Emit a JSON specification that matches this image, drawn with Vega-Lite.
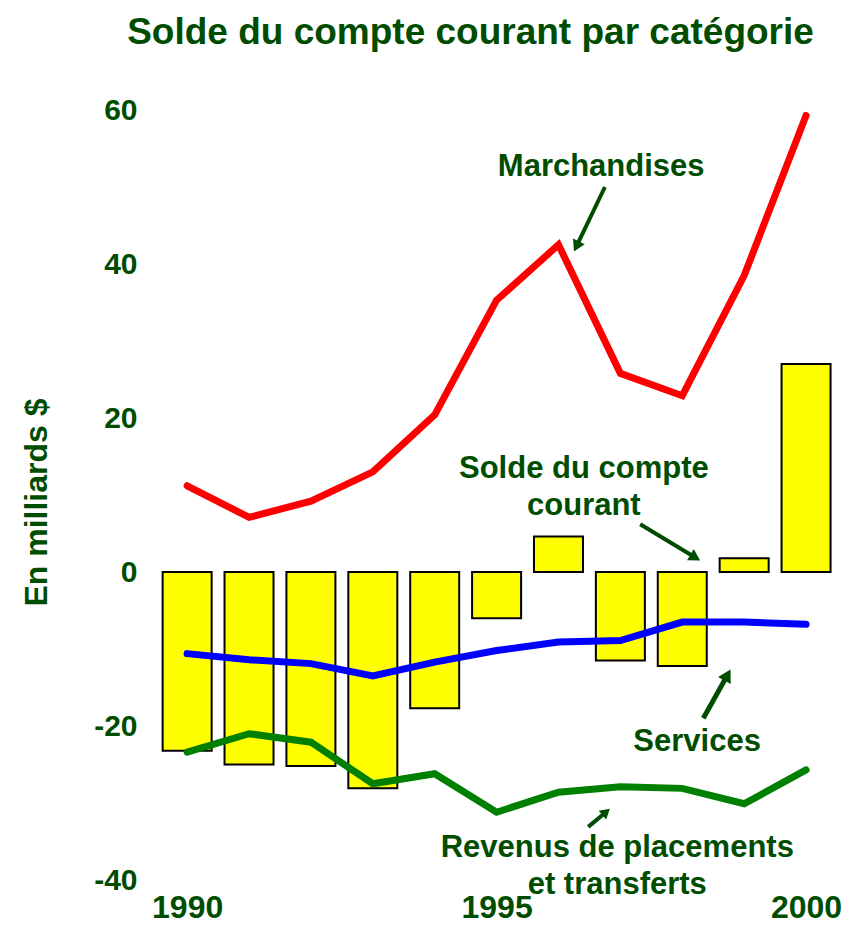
{
  "$schema": "https://vega.github.io/schema/vega-lite/v6.json",
  "width": 687,
  "height": 770,
  "autosize": {"type": "none"},
  "padding": {"left": 150, "top": 110, "right": 5, "bottom": 45},
  "background": "white",
  "title": {
    "text": "Solde du compte courant par catégorie",
    "font": "Liberation Sans",
    "fontSize": 37,
    "fontWeight": "bold",
    "color": "#004d00",
    "anchor": "middle",
    "dx": -23,
    "offset": 43
  },
  "config": {"view": {"stroke": null}, "font": "Liberation Sans"},
  "datasets": {
    "solde": [
      {"year": 1990, "value": -23.2},
      {"year": 1991, "value": -25.0},
      {"year": 1992, "value": -25.2},
      {"year": 1993, "value": -28.1},
      {"year": 1994, "value": -17.7},
      {"year": 1995, "value": -6.0},
      {"year": 1996, "value": 4.6},
      {"year": 1997, "value": -11.5},
      {"year": 1998, "value": -12.2},
      {"year": 1999, "value": 1.8},
      {"year": 2000, "value": 27.0}
    ],
    "lines": [
      {"serie": "Marchandises", "year": 1990, "value": 11.2},
      {"serie": "Marchandises", "year": 1991, "value": 7.1},
      {"serie": "Marchandises", "year": 1992, "value": 9.2},
      {"serie": "Marchandises", "year": 1993, "value": 13.0},
      {"serie": "Marchandises", "year": 1994, "value": 20.4},
      {"serie": "Marchandises", "year": 1995, "value": 35.3},
      {"serie": "Marchandises", "year": 1996, "value": 42.5},
      {"serie": "Marchandises", "year": 1997, "value": 25.8},
      {"serie": "Marchandises", "year": 1998, "value": 22.9},
      {"serie": "Marchandises", "year": 1999, "value": 38.5},
      {"serie": "Marchandises", "year": 2000, "value": 59.3},
      {"serie": "Services", "year": 1990, "value": -10.6},
      {"serie": "Services", "year": 1991, "value": -11.4},
      {"serie": "Services", "year": 1992, "value": -11.9},
      {"serie": "Services", "year": 1993, "value": -13.5},
      {"serie": "Services", "year": 1994, "value": -11.7},
      {"serie": "Services", "year": 1995, "value": -10.2},
      {"serie": "Services", "year": 1996, "value": -9.1},
      {"serie": "Services", "year": 1997, "value": -8.9},
      {"serie": "Services", "year": 1998, "value": -6.5},
      {"serie": "Services", "year": 1999, "value": -6.5},
      {"serie": "Services", "year": 2000, "value": -6.8},
      {"serie": "Revenus", "year": 1990, "value": -23.4},
      {"serie": "Revenus", "year": 1991, "value": -21.0},
      {"serie": "Revenus", "year": 1992, "value": -22.1},
      {"serie": "Revenus", "year": 1993, "value": -27.5},
      {"serie": "Revenus", "year": 1994, "value": -26.2},
      {"serie": "Revenus", "year": 1995, "value": -31.2},
      {"serie": "Revenus", "year": 1996, "value": -28.6},
      {"serie": "Revenus", "year": 1997, "value": -27.9},
      {"serie": "Revenus", "year": 1998, "value": -28.1},
      {"serie": "Revenus", "year": 1999, "value": -30.1},
      {"serie": "Revenus", "year": 2000, "value": -25.7}
    ],
    "labels": [
      {"text": "Marchandises", "year": 1996.69, "value": 51.4},
      {"text": "Solde du compte", "year": 1996.41, "value": 12.26},
      {"text": "courant", "year": 1996.41, "value": 7.36},
      {"text": "Services", "year": 1998.24, "value": -23.25},
      {"text": "Revenus de placements", "year": 1996.95, "value": -37.05},
      {"text": "et transferts", "year": 1996.95, "value": -41.86}
    ],
    "arrows": [
      {"id": "m", "year": 1996.75, "value": 50.0, "year2": 1996.29, "value2": 42.29},
      {"id": "s", "year": 1997.32, "value": 6.19, "year2": 1998.21, "value2": 1.88},
      {"id": "v", "year": 1998.34, "value": -19.0, "year2": 1998.73, "value2": -13.39},
      {"id": "r", "year": 1996.48, "value": -33.1, "year2": 1996.77, "value2": -31.16}
    ]
  },
  "layer": [
    {
      "data": {"name": "solde"},
      "mark": {"type": "bar", "width": 49, "fill": "#ffff00", "stroke": "#000000", "strokeWidth": 2},
      "encoding": {
        "x": {
          "field": "year", "type": "quantitative",
          "scale": {"domain": [1989.4, 2000.5], "nice": false, "zero": false, "padding": 0},
          "axis": {
            "values": [1990, 1995, 2000], "format": "d", "title": null,
            "domain": false, "ticks": false, "tickSize": 0, "grid": false,
            "labelFont": "Liberation Sans", "labelFontSize": 32, "labelFontWeight": "bold",
            "labelColor": "#004d00", "labelBaseline": "alphabetic", "labelPadding": 37,
            "labelFlush": false, "labelOverlap": false
          }
        },
        "y": {
          "field": "value", "type": "quantitative",
          "scale": {"domain": [-40, 60], "nice": false, "padding": 0},
          "axis": {
            "values": [-40, -20, 0, 20, 40, 60], "title": "En milliards $",
            "labelExpr": "'' + datum.value",
            "domain": false, "ticks": false, "tickSize": 0, "grid": false,
            "labelFont": "Liberation Sans", "labelFontSize": 30, "labelFontWeight": "bold",
            "labelColor": "#004d00", "labelPadding": 13, "labelBaseline": "middle",
            "titleFont": "Liberation Sans", "titleFontSize": 32, "titleFontWeight": "bold",
            "titleColor": "#004d00", "titleX": -104, "titleY": 392, "titleAngle": -90,
            "titleBaseline": "alphabetic", "titleAlign": "center"
          }
        }
      }
    },
    {
      "data": {"name": "lines"},
      "mark": {"type": "line", "strokeWidth": 7, "strokeCap": "round"},
      "encoding": {
        "x": {"field": "year", "type": "quantitative"},
        "y": {"field": "value", "type": "quantitative"},
        "color": {
          "field": "serie", "type": "nominal",
          "scale": {"domain": ["Marchandises", "Services", "Revenus"], "range": ["#ff0000", "#0000ff", "#008000"]},
          "legend": null
        }
      }
    },
    {
      "data": {"name": "labels"},
      "mark": {"type": "text", "font": "Liberation Sans", "fontSize": 31, "fontWeight": "bold", "color": "#004d00", "align": "center", "baseline": "alphabetic"},
      "encoding": {
        "x": {"field": "year", "type": "quantitative"},
        "y": {"field": "value", "type": "quantitative"},
        "text": {"field": "text"}
      }
    },
    {
      "data": {"name": "arrows"},
      "transform": [{"filter": "datum.id != 'v'"}],
      "mark": {"type": "rule", "strokeWidth": 4, "color": "#004d00"},
      "encoding": {
        "x": {"field": "year", "type": "quantitative"},
        "y": {"field": "value", "type": "quantitative"},
        "x2": {"field": "year2"},
        "y2": {"field": "value2"}
      }
    },
    {
      "data": {"name": "arrows"},
      "transform": [{"filter": "datum.id == 'v'"}],
      "mark": {"type": "rule", "strokeWidth": 5, "color": "#004d00"},
      "encoding": {
        "x": {"field": "year", "type": "quantitative"},
        "y": {"field": "value", "type": "quantitative"},
        "x2": {"field": "year2"},
        "y2": {"field": "value2"}
      }
    },
    {
      "data": {"name": "arrows"},
      "transform": [{"filter": "datum.id == 'm'"}],
      "mark": {"type": "point", "shape": "triangle-up", "filled": true, "size": 170, "color": "#004d00", "opacity": 1, "angle": 206},
      "encoding": {
        "x": {"field": "year2", "type": "quantitative"},
        "y": {"field": "value2", "type": "quantitative"}
      }
    },
    {
      "data": {"name": "arrows"},
      "transform": [{"filter": "datum.id == 's'"}],
      "mark": {"type": "point", "shape": "triangle-up", "filled": true, "size": 170, "color": "#004d00", "opacity": 1, "angle": 121},
      "encoding": {
        "x": {"field": "year2", "type": "quantitative"},
        "y": {"field": "value2", "type": "quantitative"}
      }
    },
    {
      "data": {"name": "arrows"},
      "transform": [{"filter": "datum.id == 'v'"}],
      "mark": {"type": "point", "shape": "triangle-up", "filled": true, "size": 210, "color": "#004d00", "opacity": 1, "angle": 29},
      "encoding": {
        "x": {"field": "year2", "type": "quantitative"},
        "y": {"field": "value2", "type": "quantitative"}
      }
    },
    {
      "data": {"name": "arrows"},
      "transform": [{"filter": "datum.id == 'r'"}],
      "mark": {"type": "point", "shape": "triangle-up", "filled": true, "size": 130, "color": "#004d00", "opacity": 1, "angle": 49},
      "encoding": {
        "x": {"field": "year2", "type": "quantitative"},
        "y": {"field": "value2", "type": "quantitative"}
      }
    }
  ]
}
